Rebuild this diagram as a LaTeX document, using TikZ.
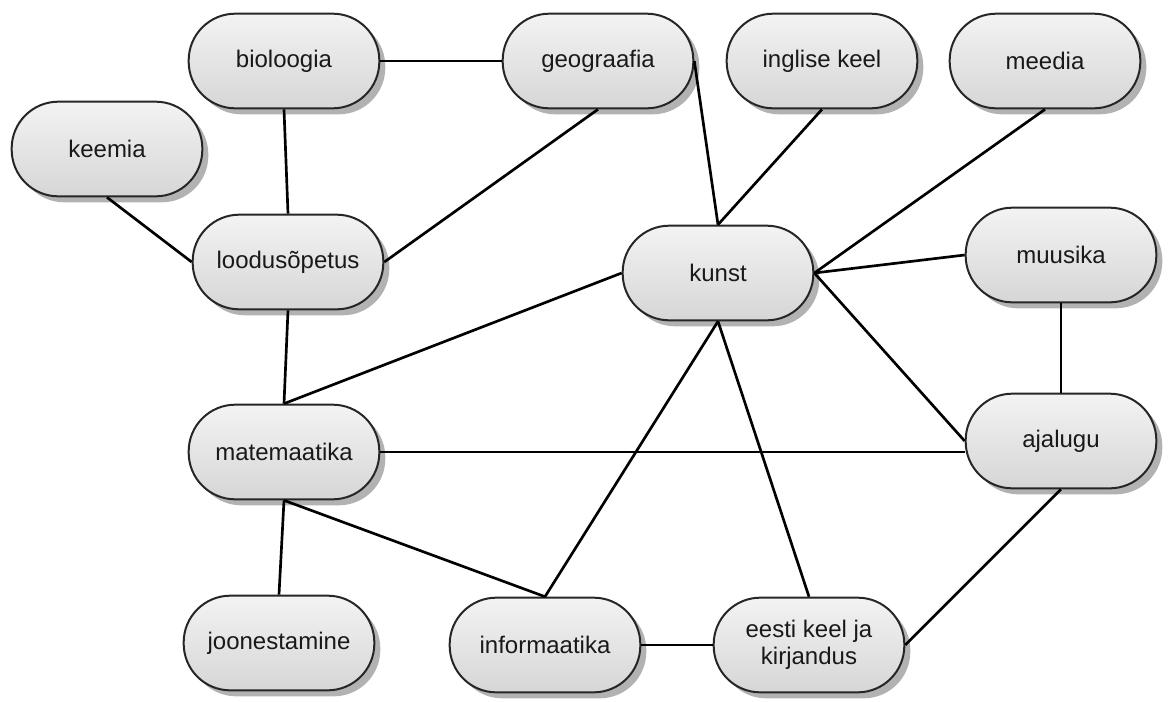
\documentclass[tikz,border=0pt]{standalone}
\usepackage{fontspec}
\setmainfont{Liberation Sans}
\usetikzlibrary{shadows}
\definecolor{nodetop}{RGB}{243,243,243}
\definecolor{nodebot}{RGB}{214,214,214}
\definecolor{shadowgray}{RGB}{165,165,165}
\begin{document}
\begin{tikzpicture}[x=0.75pt,y=-0.75pt,
  subject/.style={draw=black!85, line width=1.5pt, rounded corners=35pt,
    minimum width=143pt, minimum height=71pt, inner sep=0pt,
    top color=nodetop, bottom color=nodebot,
    drop shadow={shadow xshift=4.5pt, shadow yshift=-4.5pt, fill=shadowgray, opacity=0.85},
    font=\fontsize{18}{20.5}\selectfont, text=black!90, align=center},
  link/.style={line width=2pt, draw=black}]
\useasboundingbox (0,0) rectangle (1168,701);

% subjects
\node[subject] (biol)  at (284,61)  {bioloogia};
\node[subject] (geo)   at (598,61)  {geograafia};
\node[subject] (ingl)  at (822,61)  {inglise keel};
\node[subject] (meed)  at (1045,61) {meedia};
\node[subject] (keem)  at (107,149) {keemia};
\node[subject] (lood)  at (288,262) {loodusõpetus};
\node[subject] (kunst) at (718,273) {kunst};
\node[subject] (muus)  at (1061,255) {muusika};
\node[subject] (mate)  at (284,452) {matemaatika};
\node[subject] (ajal)  at (1061,441) {ajalugu};
\node[subject] (joon)  at (279,643) {joonestamine};
\node[subject] (info)  at (545,645) {informaatika};
\node[subject] (eesti) at (809,645) {eesti keel ja\\kirjandus};

% links between subjects
\draw[link] (biol.east) -- (geo.west);
\draw[link] (biol.south) -- (lood.north);
\draw[link] (keem.south) -- (lood.west);
\draw[link] (geo.south) -- (lood.east);
\draw[link] (geo.east) -- (kunst.north);
\draw[link] (ingl.south) -- (kunst.north);
\draw[link] (meed.south) -- (kunst.east);
\draw[link] (muus.west) -- (kunst.east);
\draw[link] (kunst.east) -- (ajal.west);
\draw[link] (kunst.west) -- (mate.north);
\draw[link] (lood.south) -- (mate.north);
\draw[link] (mate.east) -- (mate.east -| ajal.west);
\draw[link] (mate.south) -- (joon.north);
\draw[link] (mate.south) -- (info.north);
\draw[link] (info.north) -- (kunst.south);
\draw[link] (kunst.south) -- (eesti.north);
\draw[link] (info.east) -- (eesti.west);
\draw[link] (eesti.east) -- (ajal.south);
\draw[link] (muus.south) -- (ajal.north);
\end{tikzpicture}
\end{document}
